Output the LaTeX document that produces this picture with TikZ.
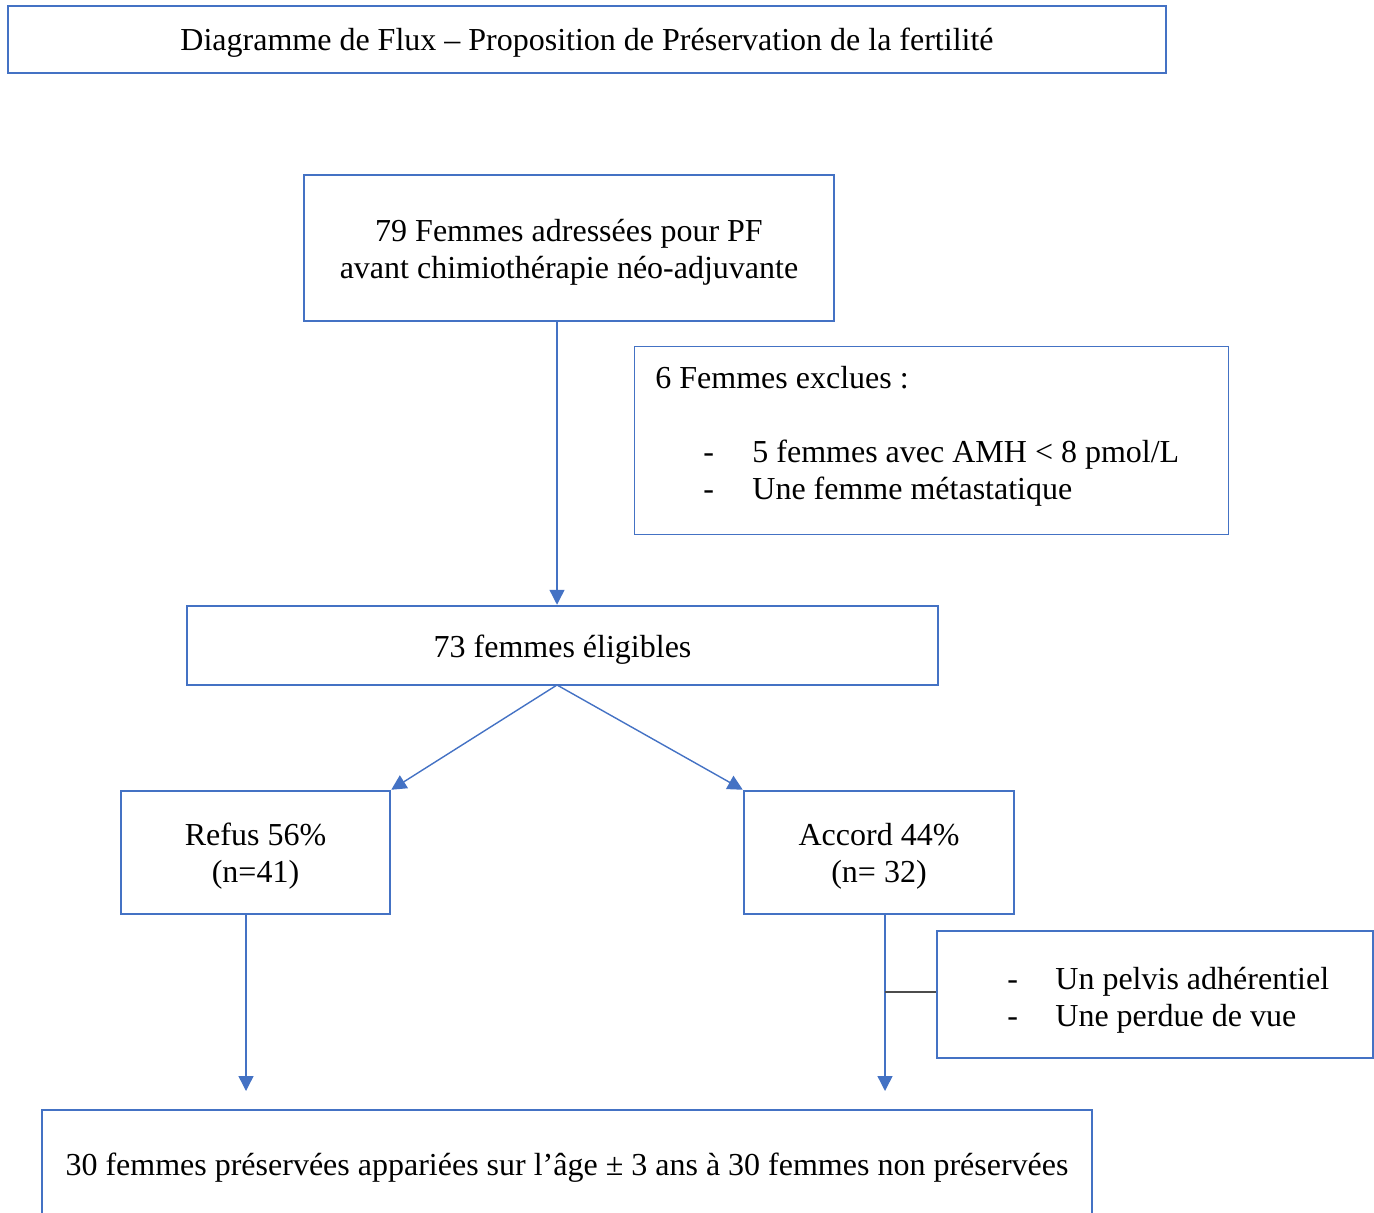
\documentclass[tikz,border=0pt]{standalone}
\usepackage{fontspec}
\setmainfont{Liberation Serif}
\usetikzlibrary{arrows.meta}
\definecolor{wblue}{HTML}{4472C4}
\begin{document}
\begin{tikzpicture}[x=0.5pt,y=-0.5pt,
  box/.style={draw=wblue,line width=1.25pt,inner sep=0pt},
  btxt/.style={inner sep=0pt,align=center,font=\fontsize{16}{18.5}\selectfont},
  thinbox/.style={draw=wblue,line width=0.5pt,inner sep=0pt},
  txt/.style={inner sep=0pt,anchor=base west,font=\fontsize{16}{18.5}\selectfont},
  arr/.style={draw=wblue,line width=0.7pt,-{Triangle[length=7.5pt,width=7.5pt]}},
  plain/.style={draw=wblue,line width=0.7pt}]
\useasboundingbox (0,0) rectangle (1374,1213);
\clip (0,0) rectangle (1374,1213);
\node[box,minimum width=1158*0.5pt,minimum height=67*0.5pt] (title) at (587,39.5) {};
\node[btxt] (titlet) at ([yshift=-1.5pt]title.center) {Diagramme de Flux -- Proposition de Préservation de la fertilité};
\node[box,minimum width=530*0.5pt,minimum height=146*0.5pt] (a) at (569,248) {};
\node[btxt] (at) at ([yshift=-2pt]a.center) {79 Femmes adressées pour PF\\avant chimiothérapie néo-adjuvante};
\node[thinbox,minimum width=594*0.5pt,minimum height=187*0.5pt] (excl) at (931,440.5) {};
\node[txt] (e1) at (655,388.5) {6 Femmes exclues :};
\node[txt] (e2d) at (703,462) {-};
\node[txt] (e2) at (752,462) {5 femmes avec AMH < 8 pmol/L};
\node[txt] (e3d) at (703,499) {-};
\node[txt] (e3) at (752,499) {Une femme métastatique};
\node[box,minimum width=751*0.5pt,minimum height=79*0.5pt] (b) at (562.5,645.5) {};
\node[btxt] (bt) at ([yshift=-2pt]b.center) {73 femmes éligibles};
\node[box,minimum width=269*0.5pt,minimum height=123*0.5pt] (refus) at (255.5,852.5) {};
\node[btxt] (refust) at ([yshift=-2pt]refus.center) {Refus 56\%\\(n=41)};
\node[box,minimum width=270*0.5pt,minimum height=123*0.5pt] (accord) at (879,852.5) {};
\node[btxt] (accordt) at ([yshift=-2pt]accord.center) {Accord 44\%\\(n= 32)};
\node[box,minimum width=436*0.5pt,minimum height=127*0.5pt] (side) at (1155,994.5) {};
\node[txt] (s1d) at (1007,989) {-};
\node[txt] (s1) at (1055,989) {Un pelvis adhérentiel};
\node[txt] (s2d) at (1007,1026) {-};
\node[txt] (s2) at (1055,1026) {Une perdue de vue};
\node[box,minimum width=1050*0.5pt,minimum height=112*0.5pt] (final) at (567,1166) {};
\node[btxt] (finalt) at ([yshift=-1pt]final.center) {30 femmes préservées appariées sur l’âge ± 3 ans à 30 femmes non préservées};
\coordinate (bs) at (557,685);
\draw[arr] (a.south -| bs) -- (b.north -| bs);
\draw[arr] (bs) -- (refus.north east);
\draw[arr] (bs) -- (accord.north west);
\coordinate (rEnd) at (246,1091);
\coordinate (aEnd) at (885,1091);
\coordinate (sj) at (885,992);
\draw[arr] (refus.south -| rEnd) -- (rEnd);
\draw[arr] (accord.south -| aEnd) -- (aEnd);
\draw[draw=black!70,line width=0.6pt] (side.west |- sj) -- (sj);
\end{tikzpicture}
\end{document}
